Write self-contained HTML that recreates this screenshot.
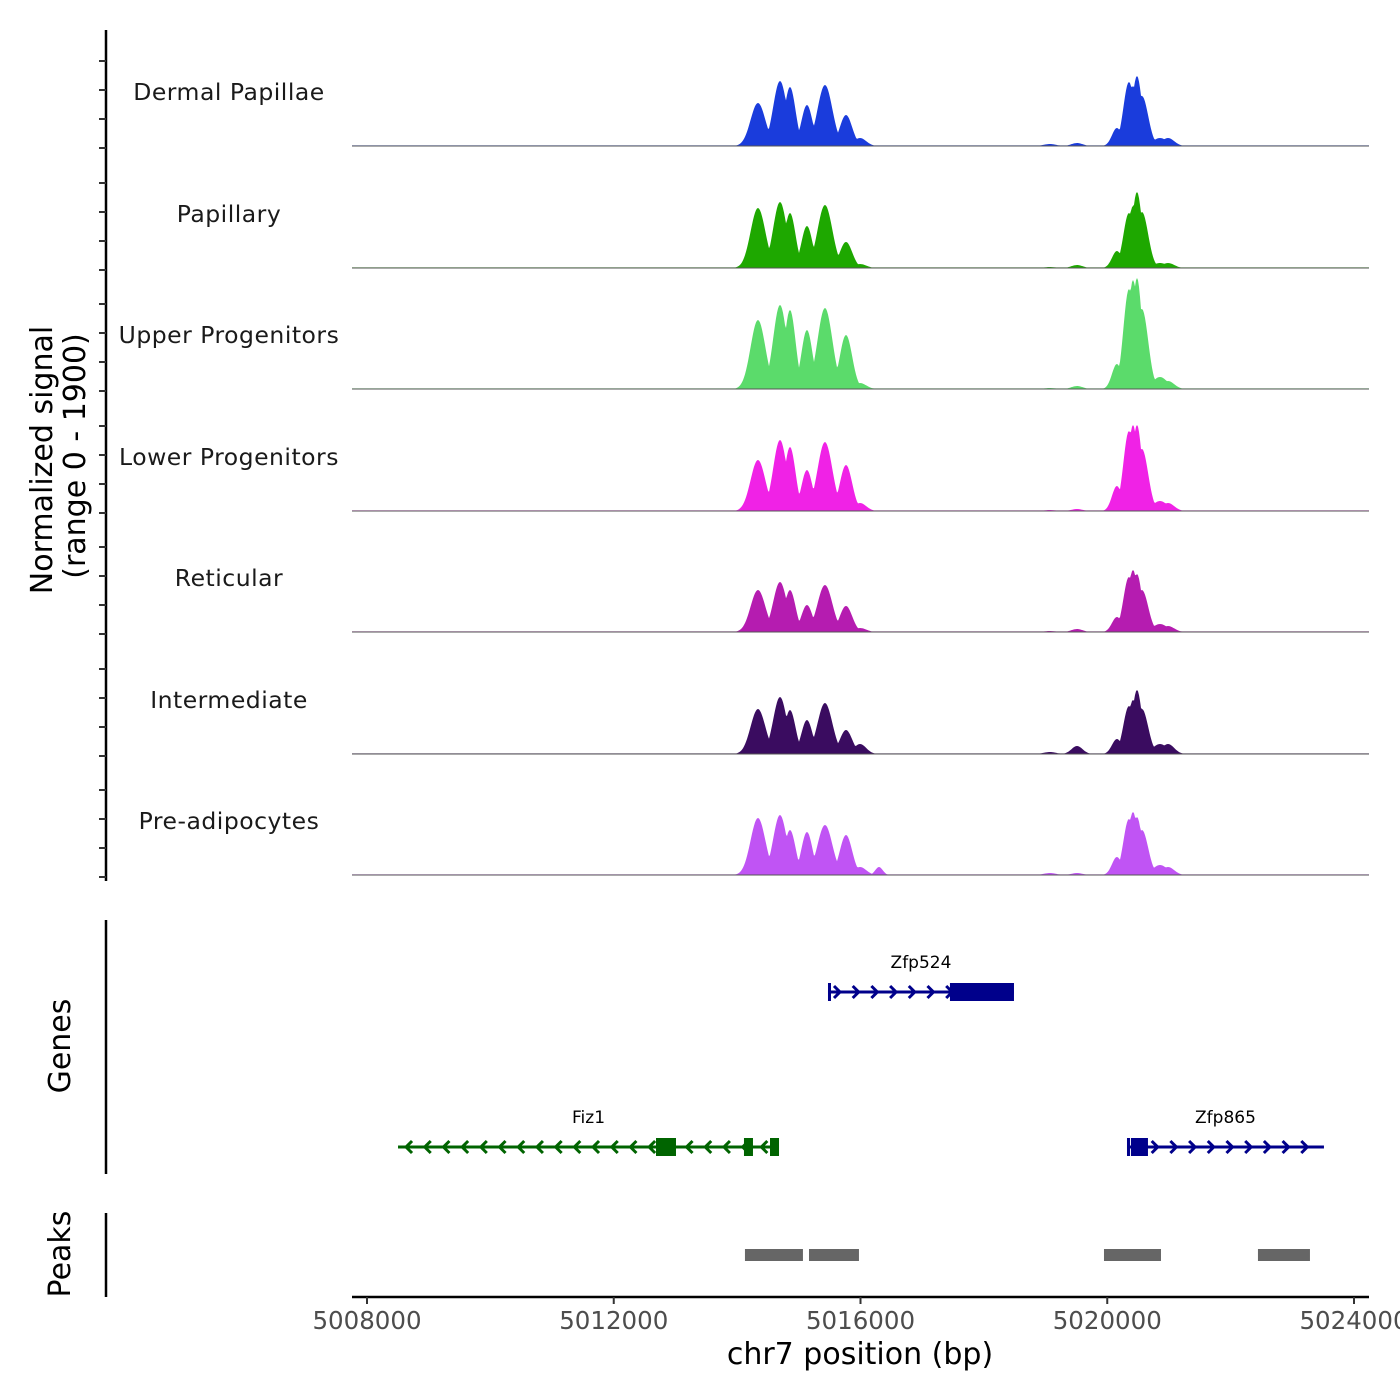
<!DOCTYPE html>
<html><head><meta charset="utf-8"><style>body{margin:0;background:#fff}svg{display:block;font-family:"DejaVu Sans","Liberation Sans",sans-serif}</style></head>
<body>
<svg id="c" width="1400" height="1400" viewBox="0 0 1400 1400"></svg>
<script>
const trackNames=["Dermal Papillae","Papillary","Upper Progenitors","Lower Progenitors","Reticular","Intermediate","Pre-adipocytes"];
const trackColors=["#1a3cdc","#1ea800","#5bdb6b","#f022e6","#b51cb0","#3a0c60","#c054f4"];
const peakCenters=[5014338,5014695,5014857,5015132,5015424,5015765,5015992,5016300,5019070,5019510,5020157,5020352,5020417,5020482,5020563,5020855,5020985];
const peakWidths=[120,110,90,90,120,100,100,60,100,90,80,90,80,80,100,120,100];
const hDermal=[43,65,59,41,61,31,8,0,2,3,18,64,60,70,50,8,8];
const hPapillary=[60,66,55,42,63,26,4,0,1,3,17,55,62,76,56,5,5];
const hUpper=[69,84,79,59,81,54,6,0,1,3,25,100,109,111,80,12,8];
const hLower=[51,71,64,41,69,46,8,0,1,2,25,80,86,86,62,10,8];
const hReticular=[42,50,42,27,47,26,4,0,1,3,15,55,62,58,42,8,6];
const hIntermediate=[45,57,44,34,51,24,10,0,2,8,15,48,54,64,45,10,10];
const hPreadipo=[57,60,45,43,50,40,8,8,2,2,18,56,63,58,45,10,8];
const trackHeights=[hDermal,hPapillary,hUpper,hLower,hReticular,hIntermediate,hPreadipo];
const xTicks=[5008000,5012000,5016000,5020000,5024000];
const xTickLabels=["5008000","5012000","5016000","5020000","5024000"];
const genes=[{name:"Zfp524",start:5015473,end:5018488,strand:1,row:0,color:"#00008b",exons:[[5015473,5015520],[5017450,5018488]]},
{name:"Fiz1",start:5008503,end:5014679,strand:-1,row:1,color:"#006400",exons:[[5012685,5013009],[5014111,5014257],[5014533,5014679]]},
{name:"Zfp865",start:5020320,end:5023513,strand:1,row:1,color:"#00008b",exons:[[5020320,5020360],[5020384,5020660]]}];
const peakStarts=[5014127,5015165,5019947,5022443];
const peakEnds=[5015067,5015975,5020871,5023286];

const svg=document.getElementById('c');const NS="http://www.w3.org/2000/svg";
function mk(t,a,p){const e=document.createElementNS(NS,t);for(const k in a)e.setAttribute(k,a[k]);(p||svg).appendChild(e);return e;}
const X=bp=>367+(bp-5008000)*(987/16000);
const baselines=[146,268,389,511,632,754,875];
let ax=mk('line',{x1:106,y1:30,x2:106,y2:881,stroke:'#000','stroke-width':2.5});

baselines.forEach(b=>{for(let k=0;k<4;k++){const t=mk('line',{x1:99,x2:106,y1:b-29*k+2,y2:b-29*k+2,stroke:'#333','stroke-width':2});}});
trackNames.forEach((n,i)=>{
  const b=baselines[i];const g=mk('g',{});
  
  let d='M352,'+b;
  for(let x=352;x<=1369;x+=1){const bp=5008000+(x-367)*16000/987;let v=0.6;
    peakCenters.forEach((c,j)=>{const w=peakWidths[j];v=Math.max(v,trackHeights[i][j]*Math.exp(-0.5*((bp-c)/w)**2));});
    d+=' L'+x+','+(b-v).toFixed(1);}
  d+=' L1369,'+b+' Z';
  const p=mk('path',{d:d,fill:trackColors[i]},g);
  const l=mk('line',{x1:352,x2:1369,y1:b,y2:b,stroke:'#555','stroke-width':1},g);
  const t=mk('text',{x:229,y:b-46,'text-anchor':'middle','font-size':23.5,fill:'#1a1a1a','letter-spacing':'0.5'},g);t.textContent=n;
  
});
function rot(txt,x,y,name){const t=mk('text',{x:x,y:y,'text-anchor':'middle','font-size':30,transform:`rotate(-90 ${x} ${y})`});t.textContent=txt;}
rot('Normalized signal',52,460,'y-axis-title');rot('(range 0 - 1900)',85,456,'y-axis-range');
rot('Genes',70,1046,'genes-axis-title');rot('Peaks',70,1254,'peaks-axis-title');
let gl=mk('line',{x1:106,x2:106,y1:920,y2:1174,stroke:'#000','stroke-width':2.5});
let pl=mk('line',{x1:106,x2:106,y1:1213,y2:1297,stroke:'#000','stroke-width':2.5});
genes.forEach(gn=>{
  const y=gn.row?1147:992;const g=mk('g',{});
  const x1=X(gn.start),x2=X(gn.end);
  mk('line',{x1:x1,x2:x2,y1:y,y2:y,stroke:gn.color,'stroke-width':3},g);
  for(let x=x1+10;x<x2;x+=18.7){const s=gn.strand;mk('polyline',{points:`${x-4*s},${y-6} ${x+2*s},${y} ${x-4*s},${y+6}`,fill:'none',stroke:gn.color,'stroke-width':3},g);}
  gn.exons.forEach(e=>{const a=X(e[0]),b=Math.max(X(e[1]),a+3);mk('rect',{x:a,y:y-9,width:b-a,height:18,fill:gn.color},g);});
  const t=mk('text',{x:(x1+x2)/2,y:y-24,'text-anchor':'middle','font-size':17,fill:'#000'},g);t.textContent=gn.name;
});
peakStarts.forEach((s,i)=>{const r=mk('rect',{x:X(s),y:1249,width:X(peakEnds[i])-X(s),height:12,fill:'#666'});});
let xl=mk('line',{x1:352,x2:1369,y1:1297,y2:1297,stroke:'#000','stroke-width':2.5});
xTicks.forEach((v,i)=>{const x=X(v);const t=mk('line',{x1:x,x2:x,y1:1297,y2:1304,stroke:'#333','stroke-width':2});
  const l=mk('text',{x:x,y:1329,'text-anchor':'middle','font-size':24.5,fill:'#4d4d4d'});l.textContent=xTickLabels[i];});
const xt=mk('text',{x:860,y:1364,'text-anchor':'middle','font-size':30});xt.textContent='chr7 position (bp)';
</script>
</body></html>
